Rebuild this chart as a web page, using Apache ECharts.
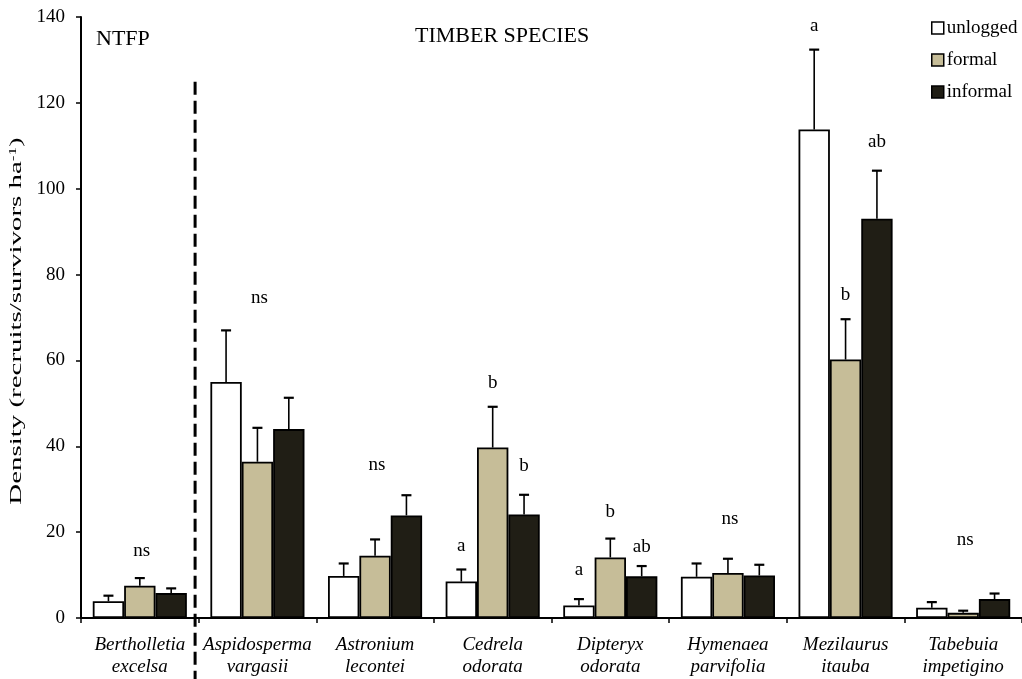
<!DOCTYPE html>
<html>
<head>
<meta charset="utf-8">
<script src="https://cdn.jsdelivr.net/npm/echarts@6/dist/echarts.min.js"></script>
<style>
  html, body { margin: 0; padding: 0; background: #fff; }
  #chart { width: 1022px; height: 679px; }
</style>
</head>
<body>
<div id="chart"></div>
<script>
// Species (two-line italic labels)
const categories = [
  'Bertholletia\nexcelsa', 'Aspidosperma\nvargasii', 'Astronium\nlecontei', 'Cedrela\nodorata',
  'Dipteryx\nodorata', 'Hymenaea\nparvifolia', 'Mezilaurus\nitauba', 'Tabebuia\nimpetigino'
];
const seriesNames = ['unlogged', 'formal', 'informal'];

// Mean densities (recruits/survivors per ha)
const unlogged = [3.9, 55.0, 9.8, 8.5, 2.9, 9.6, 113.8, 2.4];
const formal   = [7.5, 36.4, 14.5, 39.7, 14.1, 10.5, 60.2, 1.2];
const informal = [5.8, 44.0, 23.9, 24.1, 9.7, 9.9, 93.0, 4.4];

// Standard errors (upper whiskers only)
const unloggedErr = [1.3, 12.0, 2.9, 2.8, 1.5, 3.1, 18.6, 1.3];
const formalErr   = [1.8, 7.9, 3.8, 9.5, 4.4, 3.3, 9.4, 0.5];
const informalErr = [1.1, 7.3, 4.7, 4.6, 2.4, 2.5, 11.2, 1.3];

// Significance letters: category, bar (-1 = whole group), text, height in data units
const letterCat    = [0, 1, 2, 3, 3, 3, 4, 4, 4, 5, 6, 6, 6, 7];
const letterBar    = [-1, -1, -1, 0, 1, 2, 0, 1, 2, -1, 0, 1, 2, -1];
const letterText   = ['ns', 'ns', 'ns', 'a', 'b', 'b', 'a', 'b', 'ab', 'ns', 'a', 'b', 'ab', 'ns'];
const letterHeight = [15.5, 74.6, 35.6, 16.8, 54.7, 35.3, 11.1, 24.6, 16.5, 23.0, 138.0, 75.2, 110.9, 18.1];

const yTicks = { min: 0, max: 140, interval: 20 };

const FONT = '"Liberation Serif", "DejaVu Serif", serif';
const colors = ['#ffffff', '#c6bd98', '#201e15'];
const CAT_GAP = 0.2;

const values = [unlogged, formal, informal];
const errors = [unloggedErr, formalErr, informalErr];

const chart = echarts.init(document.getElementById('chart'));

const barSeries = seriesNames.map((name, s) => ({
  name: name,
  type: 'bar',
  data: values[s],
  barGap: '0%',
  barCategoryGap: (CAT_GAP * 100) + '%',
  itemStyle: { color: colors[s], borderColor: '#000', borderWidth: 1.8 },
  emphasis: { disabled: true },
  z: 2
}));

function barCenterX(api, cat, s) {
  const band = api.size([1, 0])[0];
  const barW = band * (1 - CAT_GAP) / 3;
  return api.coord([cat, 0])[0] + (s - 1) * barW;
}

const errorSeries = seriesNames.map((name, s) => ({
  type: 'custom',
  name: name + '-se',
  data: values[s].map((v, i) => [i, v, errors[s][i]]),
  z: 3,
  silent: true,
  renderItem: function (params, api) {
    const cat = api.value(0);
    const v = api.value(1);
    const e = api.value(2);
    const x = barCenterX(api, cat, s);
    const yBase = api.coord([cat, v])[1];
    const yTop = api.coord([cat, v + e])[1];
    return {
      type: 'group',
      children: [
        { type: 'line', shape: { x1: x, y1: yBase, x2: x, y2: yTop }, style: { stroke: '#000', lineWidth: 1.6 } },
        { type: 'line', shape: { x1: x - 5, y1: yTop, x2: x + 5, y2: yTop }, style: { stroke: '#000', lineWidth: 2.2 } }
      ]
    };
  }
}));

const letterSeries = {
  type: 'custom',
  name: 'letters',
  data: letterCat.map((c, i) => [c, letterHeight[i], letterBar[i], i]),
  z: 4,
  silent: true,
  renderItem: function (params, api) {
    const cat = api.value(0);
    const h = api.value(1);
    const b = api.value(2);
    const idx = api.value(3);
    const x = b < 0 ? api.coord([cat, 0])[0] + 2 : barCenterX(api, cat, b);
    const y = api.coord([cat, h])[1];
    return {
      type: 'text',
      style: {
        x: x, y: y, text: letterText[idx],
        align: 'center', verticalAlign: 'middle',
        font: '19px ' + FONT, fill: '#000'
      }
    };
  }
};

chart.setOption({
  animation: false,
  backgroundColor: '#fff',
  grid: { left: 81, top: 17, width: 946, height: 601, containLabel: false },
  legend: {
    orient: 'vertical',
    left: 931,
    top: 18,
    padding: 0,
    itemWidth: 12,
    itemHeight: 12,
    itemGap: 12,
    icon: 'rect',
    selectedMode: false,
    data: seriesNames.map((n, s) => ({
      name: n,
      itemStyle: { color: colors[s], borderColor: '#000', borderWidth: 1.5 }
    })),
    textStyle: { fontFamily: FONT, fontSize: 19, color: '#000', lineHeight: 20, padding: [0, 0, 0, -2] }
  },
  xAxis: {
    type: 'category',
    data: categories,
    axisLine: { lineStyle: { color: '#000', width: 2 } },
    axisTick: { show: true, length: 5, lineStyle: { color: '#000', width: 1.5 } },
    axisLabel: {
      fontFamily: FONT, fontSize: 19, fontStyle: 'italic', color: '#000',
      lineHeight: 22, margin: 16, interval: 0
    }
  },
  yAxis: {
    type: 'value',
    min: yTicks.min, max: yTicks.max, interval: yTicks.interval,
    splitLine: { show: false },
    axisLine: { show: true, lineStyle: { color: '#000', width: 2 } },
    axisTick: { show: true, length: 5, lineStyle: { color: '#000', width: 1.5 } },
    axisLabel: { fontFamily: FONT, fontSize: 19, color: '#000', margin: 16 }
  },
  series: barSeries.concat(errorSeries, [letterSeries])
});

// Section headings, y-axis title and the NTFP / timber divider
const p0 = chart.convertToPixel({ xAxisIndex: 0, yAxisIndex: 0 }, [0, 0]);
const p1 = chart.convertToPixel({ xAxisIndex: 0, yAxisIndex: 0 }, [1, 0]);
const band = p1[0] - p0[0];
const dividerX = p0[0] + band * 0.47;
const dividerTop = chart.convertToPixel({ yAxisIndex: 0 }, 124.9);

chart.setOption({
  graphic: [
    {
      type: 'line',
      shape: { x1: dividerX, y1: dividerTop, x2: dividerX, y2: 679 },
      style: { stroke: '#000', lineWidth: 3, lineDash: [13, 6] },
      z: 10
    },
    {
      type: 'text',
      left: 96, top: 28,
      style: { text: 'NTFP', font: '22px ' + FONT, fill: '#000' }
    },
    {
      type: 'text',
      left: 415, top: 25,
      style: { text: 'TIMBER SPECIES', font: '22px ' + FONT, fill: '#000' }
    },
    {
      type: 'text',
      x: 17, y: 321,
      rotation: Math.PI / 2,
      scaleX: 1.7,
      style: {
        text: 'Density (recruits/survivors ha{sup|-1})',
        font: '17px ' + FONT, fill: '#000',
        align: 'center', verticalAlign: 'middle',
        rich: { sup: { fontFamily: FONT, fontSize: 10, verticalAlign: 'top', fill: '#000' } }
      }
    }
  ]
});
</script>
</body>
</html>
